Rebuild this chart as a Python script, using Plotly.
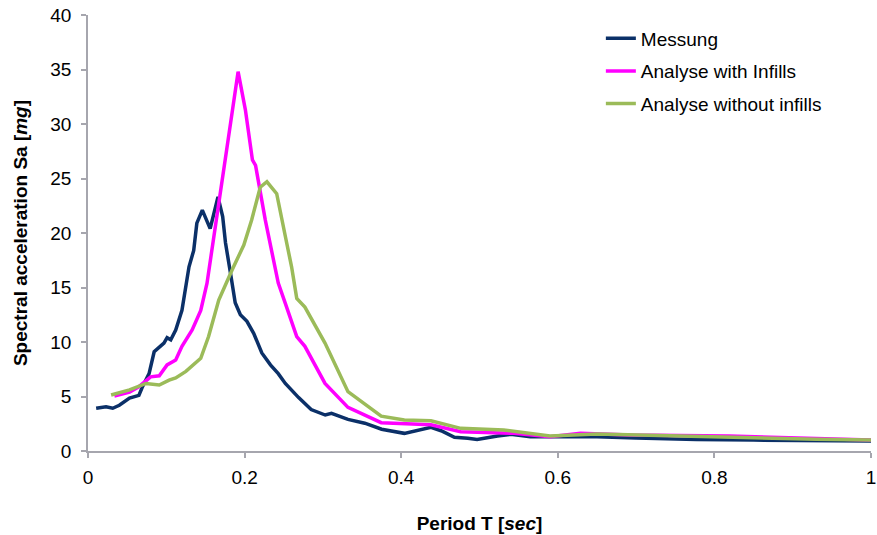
import plotly.graph_objects as go

# Messung
mes_T = [0.0104, 0.023, 0.0316, 0.040, 0.053, 0.065, 0.069, 0.078, 0.0845, 0.091, 0.097, 0.101, 0.1057,
         0.112, 0.120, 0.129, 0.135, 0.139, 0.146, 0.156, 0.166, 0.172, 0.1756, 0.182, 0.188, 0.1946,
         0.203, 0.2116, 0.222, 0.233, 0.243, 0.252, 0.269, 0.285, 0.303, 0.311, 0.332, 0.3535, 0.375,
         0.404, 0.430, 0.438, 0.451, 0.468, 0.485, 0.497, 0.523, 0.540, 0.565, 0.590, 0.65, 0.70,
         0.777, 0.85, 0.93, 1.0]
mes_Sa = [3.92, 4.06, 3.92, 4.2, 4.85, 5.1, 5.8, 7.1, 9.1, 9.55, 9.9, 10.4, 10.2,
          11.1, 12.9, 16.9, 18.4, 20.9, 22.1, 20.4, 23.3, 21.5, 19.1, 16.3, 13.6, 12.5,
          11.9, 10.8, 9.0, 7.9, 7.1, 6.2, 4.9, 3.8, 3.3, 3.46, 2.9, 2.55, 2.0,
          1.62, 2.08, 2.17, 1.86, 1.26, 1.17, 1.05, 1.37, 1.53, 1.3, 1.31, 1.3, 1.2,
          1.05, 1.0, 1.0, 0.92]

# Analyse with Infills
inf_T = [0.0337, 0.053, 0.065, 0.080, 0.091, 0.101, 0.112, 0.120, 0.133, 0.144, 0.152, 0.158, 0.167,
         0.177, 0.1917, 0.201, 0.210, 0.214, 0.2264, 0.243, 0.252, 0.2666, 0.277, 0.3027, 0.332,
         0.3745, 0.438, 0.476, 0.544, 0.590, 0.629, 0.692, 0.819, 0.862, 0.93, 1.0]
inf_Sa = [5.05, 5.4, 5.9, 6.8, 6.9, 7.9, 8.35, 9.6, 11.1, 12.9, 15.4, 18.4, 23.0,
          27.6, 34.8, 31.3, 26.7, 26.2, 21.2, 15.4, 13.55, 10.5, 9.6, 6.2, 4.0,
          2.6, 2.4, 1.77, 1.62, 1.31, 1.62, 1.47, 1.38, 1.31, 1.15, 1.0]

# Analyse without infills
wo_T = [0.0295, 0.053, 0.074, 0.091, 0.1036, 0.112, 0.125, 0.144, 0.154, 0.167, 0.184, 0.199, 0.209,
        0.220, 0.2285, 0.241, 0.252, 0.260, 0.2666, 0.277, 0.3027, 0.332, 0.3745, 0.404, 0.438,
        0.476, 0.531, 0.590, 0.650, 0.777, 0.93, 1.0]
wo_Sa = [5.14, 5.6, 6.2, 6.05, 6.5, 6.7, 7.3, 8.5, 10.5, 13.85, 16.6, 18.9, 21.2,
         24.2, 24.7, 23.6, 19.7, 16.9, 14.0, 13.2, 9.9, 5.44, 3.2, 2.84, 2.78,
         2.08, 1.93, 1.38, 1.56, 1.31, 1.07, 1.0]

x_ticks = [0, 0.2, 0.4, 0.6, 0.8, 1]
x_tick_text = ["0", "0.2", "0.4", "0.6", "0.8", "1"]
y_ticks = [0, 5, 10, 15, 20, 25, 30, 35, 40]

series = [
    ("Messung", mes_T, mes_Sa, "#0B3068"),
    ("Analyse with Infills", inf_T, inf_Sa, "#FF00FF"),
    ("Analyse without infills", wo_T, wo_Sa, "#9BBB59"),
]

fig = go.Figure()
for i, (name, xs, ys, col) in enumerate(series):
    fig.add_trace(go.Scatter(x=xs, y=ys, mode="lines", name=name, legendgroup=str(i),
                             line=dict(color=col, width=3.5)))

axis_col = "#A6A6AE"
FS = 19
fig.update_layout(
    width=877, height=535,
    margin=dict(l=88, r=6, t=15, b=84),
    plot_bgcolor="white", paper_bgcolor="white",
    font=dict(family="Liberation Sans, Arial, sans-serif", size=FS, color="#000000"),
    showlegend=True,
    legend=dict(x=0.655, y=0.99, xanchor="left", yanchor="top", bgcolor="rgba(0,0,0,0)",
                font=dict(size=FS), traceorder="grouped", tracegroupgap=5),
    xaxis=dict(range=[0, 1], tickvals=x_ticks, ticktext=x_tick_text, showgrid=False, zeroline=False,
               showline=True, linecolor=axis_col, linewidth=1.5, ticks="outside", ticklen=5,
               tickcolor=axis_col, tickwidth=1.5, ticklabeloverflow="allow", automargin=False,
               ticklabelstandoff=3,
               title=dict(text="<b>Period T [<i>sec</i>]</b>", font=dict(size=FS), standoff=30)),
    yaxis=dict(range=[0, 40], tickvals=y_ticks, showgrid=False, zeroline=False,
               showline=True, linecolor=axis_col, linewidth=1.5, ticks="outside", ticklen=5,
               tickcolor=axis_col, tickwidth=1.5, ticklabelstandoff=6, automargin=False,
               title=dict(text="<b>Spectral acceleration Sa [<i>mg</i>]</b>", font=dict(size=FS), standoff=18)),
)

fig.write_html("out.html")
